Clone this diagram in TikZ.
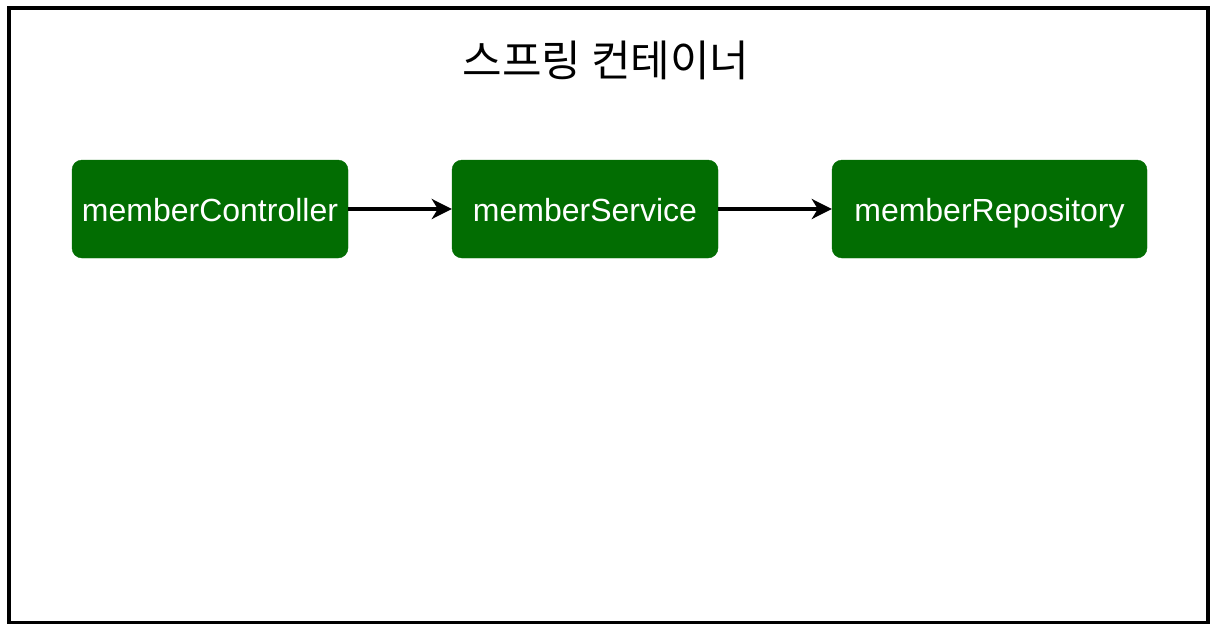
\documentclass[tikz,border=0pt]{standalone}
\usepackage{fontspec}
\setmainfont{Liberation Sans}
\newfontfamily\krfont{Noto Sans CJK KR}
\usetikzlibrary{arrows.meta}
\definecolor{beangreen}{HTML}{026D02}
\begin{document}
\begin{tikzpicture}[x=1pt, y=-1pt,
    bean style/.style={fill=beangreen, draw=beangreen, rounded corners=10pt,
        text=white, font=\fontsize{32}{36}\selectfont, inner sep=0pt,
        text height=24pt, text depth=0pt, minimum height=98pt},
    dep style/.style={line width=3.5pt, -{Stealth[length=20pt, width=20pt, inset=6pt]}},]
    \useasboundingbox (0,0) rectangle (1211,624);
    %\draw (0,0) rectangle (1211,624);

    \pgfmathsetmacro{\midy}{209}

    % container frame
    \draw[line width=4pt] (9,7.5) rectangle (1208,623);
    \node[font=\krfont\fontsize{43}{48}\selectfont] (title) at (606,60) {스프링 컨테이너};

    \node[style=bean style, minimum width=276pt] (ctrl) at (210,\midy) {memberController};
    \node[style=bean style, minimum width=266pt] (svc) at (585,\midy) {memberService};
    \node[style=bean style, minimum width=315pt] (repo) at (989.5,\midy) {memberRepository};

    \draw[style=dep style] (ctrl) -- (svc);
    \draw[style=dep style] (svc) -- (repo);

\end{tikzpicture}
\end{document}
